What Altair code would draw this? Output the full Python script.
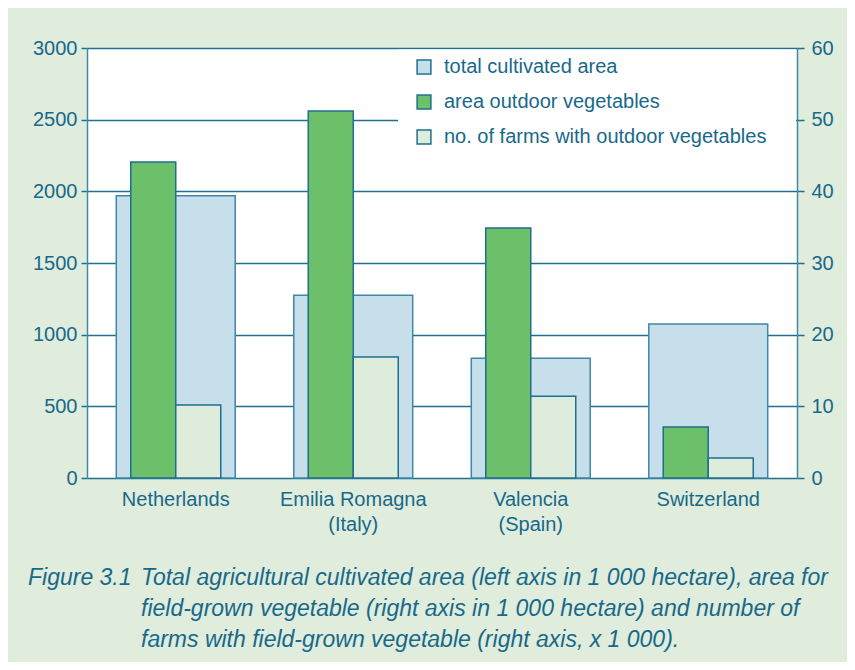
import altair as alt
import pandas as pd

# ---- data ----
countries = ["Netherlands", "Emilia Romagna|(Italy)", "Valencia|(Spain)", "Switzerland"]
total_area = [1970, 1275, 835, 1075]          # left axis, 1 000 ha
veg_area = [44.1, 51.2, 34.9, 7.1]            # right axis, 1 000 ha
farms = [10.2, 16.9, 11.4, 2.8]               # right axis, x 1 000
series_names = ["total cultivated area", "area outdoor vegetables",
                "no. of farms with outdoor vegetables"]
left_ticks = [0, 500, 1000, 1500, 2000, 2500, 3000]
right_ticks = [0, 10, 20, 30, 40, 50, 60]
caption_label = "Figure 3.1"
caption_text = ("Total agricultural cultivated area (left axis in 1 000 hectare), area for\n"
                "field-grown vegetable (right axis in 1 000 hectare) and number of\n"
                "farms with field-grown vegetable (right axis, x 1 000).")

# ---- styling ----
BG = "#e0ecdc"
BLUE = "#c7dfea"
GREEN = "#6cc06a"
PALE = "#deecdc"
LINE = "#1f6f8f"
TEXT = "#17698a"
FONT = "Liberation Sans"

df_total = pd.DataFrame({"country": countries, "value": total_area,
                         "series": series_names[0]})
df_right = pd.DataFrame({
    "country": countries * 2,
    "value": veg_area + farms,
    "series": [series_names[1]] * 4 + [series_names[2]] * 4,
})

color_scale = alt.Scale(domain=series_names, range=[BLUE, GREEN, PALE])
legend = alt.Legend(
    orient="none", legendX=327, legendY=9, title=None, padding=0,
    symbolType="square", symbolSize=190, symbolStrokeColor=LINE,
    symbolStrokeWidth=1.5, symbolOpacity=1, labelFontSize=20, labelFont=FONT,
    labelColor=TEXT, labelOffset=10, rowPadding=15, labelLimit=500,
)

x_axis = alt.Axis(
    title=None, domain=False, ticks=False, labelAngle=0, labelPadding=11,
    labelFontSize=20, labelFont=FONT, labelColor=TEXT, labelBaseline="top",
    labelLineHeight=25, labelExpr="split(datum.label, '|')",
)
x_enc = alt.X("country:N", scale=alt.Scale(domain=countries, paddingInner=0,
                                           paddingOuter=0), axis=x_axis)

left_axis = alt.Axis(
    title=None, orient="left", values=left_ticks, format="d", grid=True,
    gridColor=LINE, gridWidth=1.5, domainColor="#3f8aa8", domainWidth=1.5,
    tickColor=LINE, tickWidth=1.5, tickSize=6, labelPadding=4,
    labelFontSize=20, labelFont=FONT, labelColor=TEXT,
)
right_axis = alt.Axis(
    title=None, orient="right", values=right_ticks, format="d", grid=False,
    domainColor="#3f8aa8", domainWidth=1.5, tickColor=LINE, tickWidth=1.5,
    tickSize=7, labelPadding=7, labelFontSize=20, labelFont=FONT,
    labelColor=TEXT,
)

legend_bg = alt.Chart(alt.Data(values=[{"k": 0}])).mark_rect(
    fill="white"
).encode(x=alt.value(311), x2=alt.value(709), y=alt.value(1.5), y2=alt.value(106))

wide = alt.Chart(df_total).mark_bar(
    width={"band": 0.67}, stroke="#3d88a6", strokeWidth=1.5, opacity=1
).encode(
    x=x_enc,
    y=alt.Y("value:Q", scale=alt.Scale(domain=[0, 3000], nice=False),
            axis=left_axis),
    color=alt.Color("series:N", scale=color_scale, legend=legend),
)

narrow = alt.Chart(df_right).mark_bar(
    stroke=LINE, strokeWidth=1.5, opacity=1
).encode(
    x=x_enc,
    xOffset=alt.XOffset("series:N", scale=alt.Scale(
        domain=series_names[1:], paddingInner=0, paddingOuter=0.972)),
    y=alt.Y("value:Q", scale=alt.Scale(domain=[0, 60], nice=False),
            axis=right_axis),
    color=alt.Color("series:N", scale=color_scale, legend=legend),
)

cap1 = alt.Chart(alt.Data(values=[{"t": caption_label}])).mark_text(
    align="left", baseline="alphabetic", fontSize=23, font=FONT,
    fontStyle="italic", color=TEXT,
).encode(x=alt.value(-59), y=alt.value(537), text="t:N")

cap2 = alt.Chart(alt.Data(values=[{"t": caption_text}])).mark_text(
    align="left", baseline="alphabetic", fontSize=23, font=FONT,
    fontStyle="italic", color=TEXT, lineBreak="\n", lineHeight=31,
).encode(x=alt.value(54), y=alt.value(537), text="t:N")

chart = alt.layer(legend_bg, wide, narrow, cap1, cap2).resolve_scale(
    y="independent"
).properties(
    width=710, height=430, background=BG,
    autosize=alt.AutoSizeParams(type="none"),
    padding={"left": 79, "top": 40, "right": 50, "bottom": 184},
).configure_view(fill="white", strokeWidth=0)

chart.save("out.html", embed_options={"renderer": "svg", "actions": False})
